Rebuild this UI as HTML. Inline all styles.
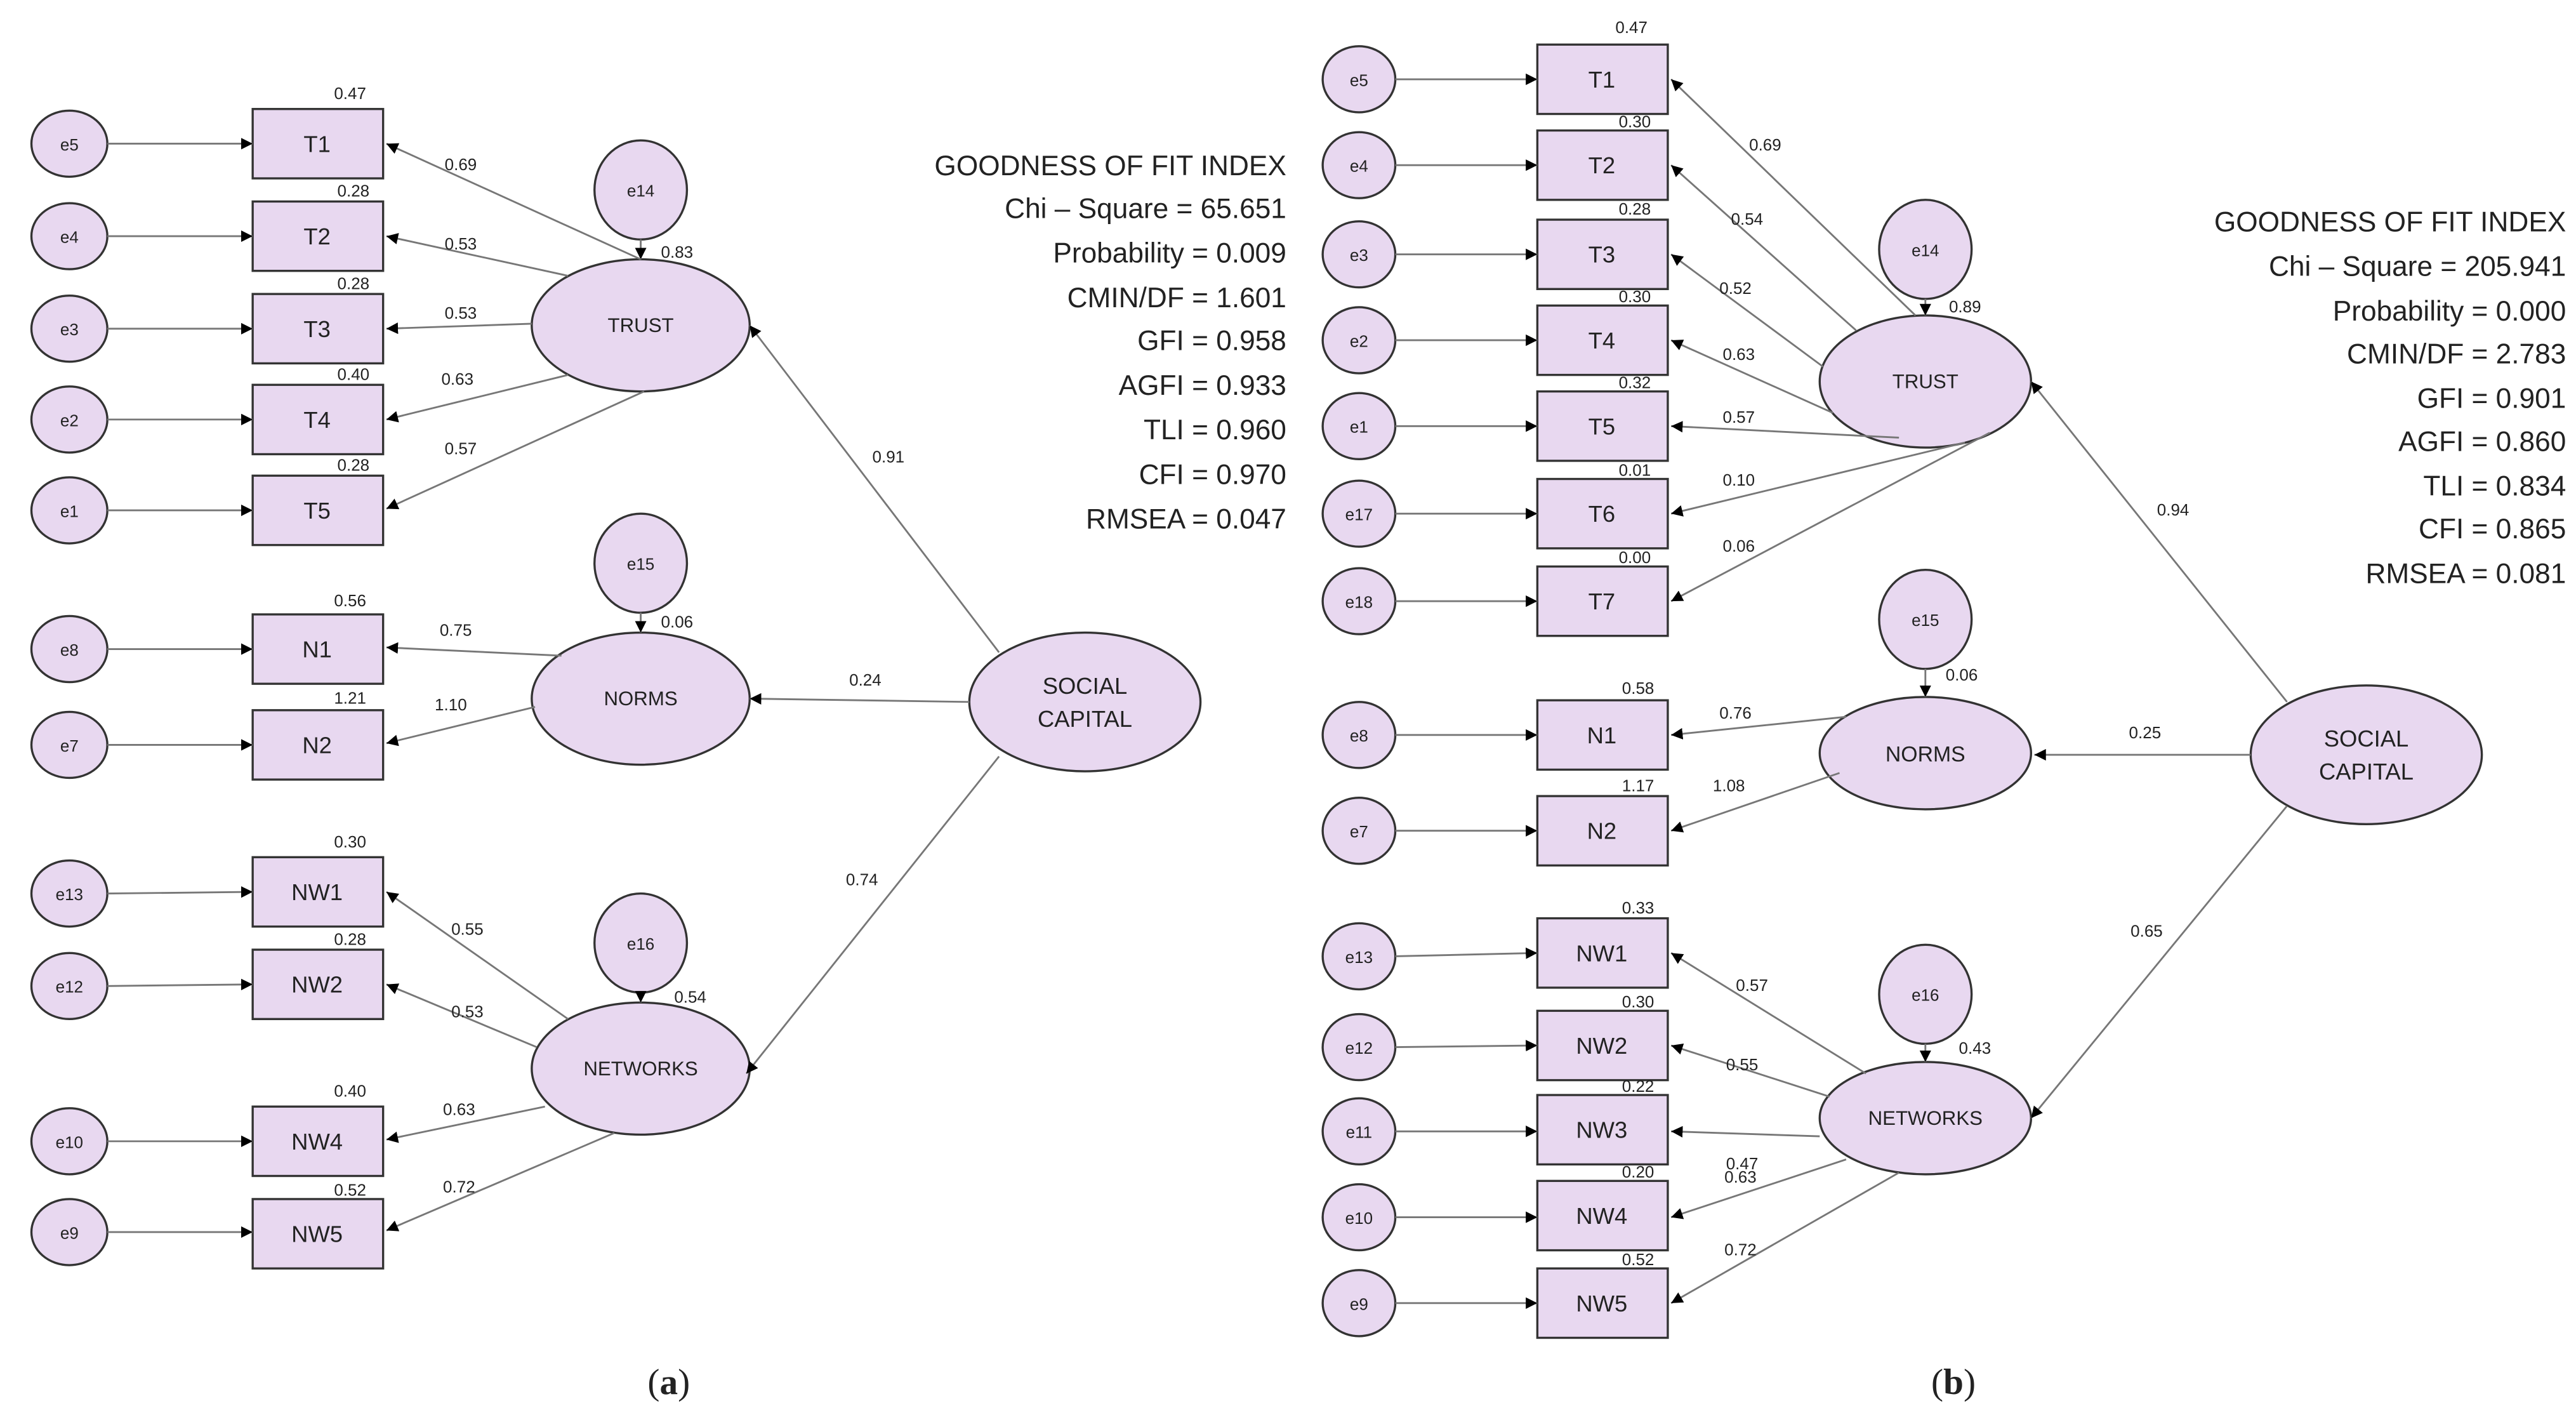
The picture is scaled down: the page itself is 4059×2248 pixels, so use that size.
<!DOCTYPE html>
<html><head><meta charset="utf-8"><style>
html,body{margin:0;padding:0;background:#fff}
svg{display:block}
text{font-family:"Liberation Sans",sans-serif;fill:#222}
.e{fill:#e8d8f0;stroke:#333;stroke-width:1.3}
.l{stroke:#777;stroke-width:1.1;fill:none;marker-end:url(#a)}
.s{font-size:10px;text-anchor:middle}
.b{font-size:14px;text-anchor:middle}
.g{font-size:17px;text-anchor:end}
.c{font-size:22px;text-anchor:middle;font-family:"Liberation Serif",serif}
</style></head><body>
<svg width="4059" height="2248" viewBox="0 0 1560 864" xmlns="http://www.w3.org/2000/svg">
<defs><marker id="a" viewBox="0 0 10 10" refX="10" refY="5" markerWidth="7" markerHeight="7" orient="auto" markerUnits="userSpaceOnUse"><path d="M0,0L10,5L0,10z" fill="#000"/></marker></defs>

<!-- ===== Panel a ===== -->
<g>
<!-- error circles -->
<g class="e">
<ellipse cx="42" cy="87" rx="23" ry="20"/><ellipse cx="42" cy="143" rx="23" ry="20"/><ellipse cx="42" cy="199" rx="23" ry="20"/><ellipse cx="42" cy="254" rx="23" ry="20"/><ellipse cx="42" cy="309" rx="23" ry="20"/><ellipse cx="42" cy="393" rx="23" ry="20"/><ellipse cx="42" cy="451" rx="23" ry="20"/><ellipse cx="42" cy="541" rx="23" ry="20"/><ellipse cx="42" cy="597" rx="23" ry="20"/><ellipse cx="42" cy="691" rx="23" ry="20"/><ellipse cx="42" cy="746" rx="23" ry="20"/>
<rect x="153" y="66" width="79" height="42"/><rect x="153" y="122" width="79" height="42"/><rect x="153" y="178" width="79" height="42"/><rect x="153" y="233" width="79" height="42"/><rect x="153" y="288" width="79" height="42"/><rect x="153" y="372" width="79" height="42"/><rect x="153" y="430" width="79" height="42"/><rect x="153" y="519" width="79" height="42"/><rect x="153" y="575" width="79" height="42"/><rect x="153" y="670" width="79" height="42"/><rect x="153" y="726" width="79" height="42"/>
<ellipse cx="388" cy="197" rx="66" ry="40"/><ellipse cx="388" cy="115" rx="28" ry="30"/>
<ellipse cx="388" cy="423" rx="66" ry="40"/><ellipse cx="388" cy="341" rx="28" ry="30"/>
<ellipse cx="388" cy="647" rx="66" ry="40"/><ellipse cx="388" cy="571" rx="28" ry="30"/>
<ellipse cx="657" cy="425" rx="70" ry="42"/>
</g>
<!-- error arrows -->
<g class="l">
<line x1="65" y1="87" x2="153" y2="87"/><line x1="65" y1="143" x2="153" y2="143"/><line x1="65" y1="199" x2="153" y2="199"/><line x1="65" y1="254" x2="153" y2="254"/><line x1="65" y1="309" x2="153" y2="309"/><line x1="65" y1="393" x2="153" y2="393"/><line x1="65" y1="451" x2="153" y2="451"/><line x1="65" y1="541" x2="153" y2="540"/><line x1="65" y1="597" x2="153" y2="596"/><line x1="65" y1="691" x2="153" y2="691"/><line x1="65" y1="746" x2="153" y2="746"/>
<line x1="388" y1="145" x2="388" y2="157"/><line x1="388" y1="371" x2="388" y2="383"/><line x1="388" y1="601" x2="388" y2="607"/>
<line x1="388" y1="157" x2="234" y2="87"/><line x1="344" y1="167" x2="234" y2="143"/><line x1="322" y1="196" x2="234" y2="199"/><line x1="344" y1="227" x2="234" y2="254"/><line x1="390" y1="237" x2="234" y2="308"/>
<line x1="340" y1="397" x2="234" y2="392"/><line x1="324" y1="428" x2="234" y2="450"/>
<line x1="344" y1="617" x2="234" y2="540"/><line x1="325" y1="634" x2="234" y2="596"/><line x1="330" y1="670" x2="234" y2="690"/><line x1="372" y1="686" x2="234" y2="745"/>
<line x1="605" y1="395" x2="454" y2="197"/><line x1="587" y1="425" x2="454" y2="423"/><line x1="605" y1="458" x2="452" y2="650"/>
</g>
<text class="s" x="42" y="91">e5</text><text class="s" x="42" y="147">e4</text><text class="s" x="42" y="203">e3</text><text class="s" x="42" y="258">e2</text><text class="s" x="42" y="313">e1</text><text class="s" x="42" y="397">e8</text><text class="s" x="42" y="455">e7</text><text class="s" x="42" y="545">e13</text><text class="s" x="42" y="601">e12</text><text class="s" x="42" y="695">e10</text><text class="s" x="42" y="750">e9</text>
<text class="b" x="192" y="92">T1</text><text class="b" x="192" y="148">T2</text><text class="b" x="192" y="204">T3</text><text class="b" x="192" y="259">T4</text><text class="b" x="192" y="314">T5</text><text class="b" x="192" y="398">N1</text><text class="b" x="192" y="456">N2</text><text class="b" x="192" y="545">NW1</text><text class="b" x="192" y="601">NW2</text><text class="b" x="192" y="696">NW4</text><text class="b" x="192" y="752">NW5</text>
<g class="s">
<text x="212" y="60">0.47</text><text x="214" y="119">0.28</text><text x="214" y="175">0.28</text><text x="214" y="230">0.40</text><text x="214" y="285">0.28</text><text x="212" y="367">0.56</text><text x="212" y="426">1.21</text><text x="212" y="513">0.30</text><text x="212" y="572">0.28</text><text x="212" y="664">0.40</text><text x="212" y="724">0.52</text>
<text x="279" y="103">0.69</text><text x="279" y="151">0.53</text><text x="279" y="193">0.53</text><text x="277" y="233">0.63</text><text x="279" y="275">0.57</text><text x="276" y="385">0.75</text><text x="273" y="430">1.10</text><text x="283" y="566">0.55</text><text x="283" y="616">0.53</text><text x="278" y="675">0.63</text><text x="278" y="722">0.72</text>
<text x="388" y="119">e14</text><text x="388" y="345">e15</text><text x="388" y="575">e16</text>
<text x="410" y="156">0.83</text><text x="410" y="380">0.06</text><text x="418" y="607">0.54</text>
<text x="538" y="280">0.91</text><text x="524" y="415">0.24</text><text x="522" y="536">0.74</text>
</g>
<text class="s" style="font-size:12px" x="388" y="201">TRUST</text><text class="s" style="font-size:12px" x="388" y="427">NORMS</text><text class="s" style="font-size:12px" x="388" y="651">NETWORKS</text>
<text class="b" x="657" y="420">SOCIAL</text><text class="b" x="657" y="440">CAPITAL</text>
<g class="g">
<text x="779" y="106">GOODNESS OF FIT INDEX</text><text x="779" y="132">Chi – Square = 65.651</text><text x="779" y="159">Probability = 0.009</text><text x="779" y="186">CMIN/DF = 1.601</text><text x="779" y="212">GFI = 0.958</text><text x="779" y="239">AGFI = 0.933</text><text x="779" y="266">TLI = 0.960</text><text x="779" y="293">CFI = 0.970</text><text x="779" y="320">RMSEA = 0.047</text>
</g>
<text class="c" x="405" y="844">(<tspan font-weight="bold">a</tspan>)</text>
</g>

<!-- ===== Panel b ===== -->
<g>
<g class="e">
<ellipse cx="823" cy="48" rx="22" ry="20"/><ellipse cx="823" cy="100" rx="22" ry="20"/><ellipse cx="823" cy="154" rx="22" ry="20"/><ellipse cx="823" cy="206" rx="22" ry="20"/><ellipse cx="823" cy="258" rx="22" ry="20"/><ellipse cx="823" cy="311" rx="22" ry="20"/><ellipse cx="823" cy="364" rx="22" ry="20"/><ellipse cx="823" cy="445" rx="22" ry="20"/><ellipse cx="823" cy="503" rx="22" ry="20"/><ellipse cx="823" cy="579" rx="22" ry="20"/><ellipse cx="823" cy="634" rx="22" ry="20"/><ellipse cx="823" cy="685" rx="22" ry="20"/><ellipse cx="823" cy="737" rx="22" ry="20"/><ellipse cx="823" cy="789" rx="22" ry="20"/>
<rect x="931" y="27" width="79" height="42"/><rect x="931" y="79" width="79" height="42"/><rect x="931" y="133" width="79" height="42"/><rect x="931" y="185" width="79" height="42"/><rect x="931" y="237" width="79" height="42"/><rect x="931" y="290" width="79" height="42"/><rect x="931" y="343" width="79" height="42"/><rect x="931" y="424" width="79" height="42"/><rect x="931" y="482" width="79" height="42"/><rect x="931" y="556" width="79" height="42"/><rect x="931" y="612" width="79" height="42"/><rect x="931" y="663" width="79" height="42"/><rect x="931" y="715" width="79" height="42"/><rect x="931" y="768" width="79" height="42"/>
<ellipse cx="1166" cy="231" rx="64" ry="40"/><ellipse cx="1166" cy="151" rx="28" ry="30"/>
<ellipse cx="1166" cy="456" rx="64" ry="34"/><ellipse cx="1166" cy="375" rx="28" ry="30"/>
<ellipse cx="1166" cy="677" rx="64" ry="34"/><ellipse cx="1166" cy="602" rx="28" ry="30"/>
<ellipse cx="1433" cy="457" rx="70" ry="42"/>
</g>
<g class="l">
<line x1="845" y1="48" x2="931" y2="48"/><line x1="845" y1="100" x2="931" y2="100"/><line x1="845" y1="154" x2="931" y2="154"/><line x1="845" y1="206" x2="931" y2="206"/><line x1="845" y1="258" x2="931" y2="258"/><line x1="845" y1="311" x2="931" y2="311"/><line x1="845" y1="364" x2="931" y2="364"/><line x1="845" y1="445" x2="931" y2="445"/><line x1="845" y1="503" x2="931" y2="503"/><line x1="845" y1="579" x2="931" y2="577"/><line x1="845" y1="634" x2="931" y2="633"/><line x1="845" y1="685" x2="931" y2="685"/><line x1="845" y1="737" x2="931" y2="737"/><line x1="845" y1="789" x2="931" y2="789"/>
<line x1="1166" y1="181" x2="1166" y2="191"/><line x1="1166" y1="405" x2="1166" y2="422"/><line x1="1166" y1="632" x2="1166" y2="643"/>
<line x1="1160" y1="191" x2="1012" y2="48"/><line x1="1124" y1="200" x2="1012" y2="100"/><line x1="1104" y1="222" x2="1012" y2="154"/><line x1="1110" y1="250" x2="1012" y2="206"/><line x1="1150" y1="265" x2="1012" y2="258"/><line x1="1190" y1="268" x2="1012" y2="311"/><line x1="1205" y1="262" x2="1012" y2="364"/>
<line x1="1118" y1="434" x2="1012" y2="445"/><line x1="1114" y1="468" x2="1012" y2="503"/>
<line x1="1130" y1="650" x2="1012" y2="577"/><line x1="1108" y1="664" x2="1012" y2="633"/><line x1="1102" y1="688" x2="1012" y2="685"/><line x1="1118" y1="702" x2="1012" y2="737"/><line x1="1150" y1="710" x2="1012" y2="789"/>
<line x1="1385" y1="425" x2="1230" y2="231"/><line x1="1363" y1="457" x2="1232" y2="457"/><line x1="1385" y1="488" x2="1230" y2="677"/>
</g>
<g class="s">
<text x="823" y="52">e5</text><text x="823" y="104">e4</text><text x="823" y="158">e3</text><text x="823" y="210">e2</text><text x="823" y="262">e1</text><text x="823" y="315">e17</text><text x="823" y="368">e18</text><text x="823" y="449">e8</text><text x="823" y="507">e7</text><text x="823" y="583">e13</text><text x="823" y="638">e12</text><text x="823" y="689">e11</text><text x="823" y="741">e10</text><text x="823" y="793">e9</text>
<text x="988" y="20">0.47</text><text x="990" y="77">0.30</text><text x="990" y="130">0.28</text><text x="990" y="183">0.30</text><text x="990" y="235">0.32</text><text x="990" y="288">0.01</text><text x="990" y="341">0.00</text><text x="992" y="420">0.58</text><text x="992" y="479">1.17</text><text x="992" y="553">0.33</text><text x="992" y="610">0.30</text><text x="992" y="661">0.22</text><text x="992" y="713">0.20</text><text x="992" y="766">0.52</text>
<text x="1069" y="91">0.69</text><text x="1058" y="136">0.54</text><text x="1051" y="178">0.52</text><text x="1053" y="218">0.63</text><text x="1053" y="256">0.57</text><text x="1053" y="294">0.10</text><text x="1053" y="334">0.06</text><text x="1051" y="435">0.76</text><text x="1047" y="479">1.08</text><text x="1061" y="600">0.57</text><text x="1055" y="648">0.55</text><text x="1055" y="708">0.47</text><text x="1054" y="716">0.63</text><text x="1054" y="760">0.72</text>
<text x="1166" y="155">e14</text><text x="1166" y="379">e15</text><text x="1166" y="606">e16</text>
<text x="1190" y="189">0.89</text><text x="1188" y="412">0.06</text><text x="1196" y="638">0.43</text>
<text x="1316" y="312">0.94</text><text x="1299" y="447">0.25</text><text x="1300" y="567">0.65</text>
</g>
<text class="b" x="970" y="53">T1</text><text class="b" x="970" y="105">T2</text><text class="b" x="970" y="159">T3</text><text class="b" x="970" y="211">T4</text><text class="b" x="970" y="263">T5</text><text class="b" x="970" y="316">T6</text><text class="b" x="970" y="369">T7</text><text class="b" x="970" y="450">N1</text><text class="b" x="970" y="508">N2</text><text class="b" x="970" y="582">NW1</text><text class="b" x="970" y="638">NW2</text><text class="b" x="970" y="689">NW3</text><text class="b" x="970" y="741">NW4</text><text class="b" x="970" y="794">NW5</text>
<text class="s" style="font-size:12px" x="1166" y="235">TRUST</text><text class="s" style="font-size:13px" x="1166" y="461">NORMS</text><text class="s" style="font-size:12px" x="1166" y="681">NETWORKS</text>
<text class="b" x="1433" y="452">SOCIAL</text><text class="b" x="1433" y="472">CAPITAL</text>
<g class="g">
<text x="1554" y="140">GOODNESS OF FIT INDEX</text><text x="1554" y="167">Chi – Square = 205.941</text><text x="1554" y="194">Probability = 0.000</text><text x="1554" y="220">CMIN/DF = 2.783</text><text x="1554" y="247">GFI = 0.901</text><text x="1554" y="273">AGFI = 0.860</text><text x="1554" y="300">TLI = 0.834</text><text x="1554" y="326">CFI = 0.865</text><text x="1554" y="353">RMSEA = 0.081</text>
</g>
<text class="c" x="1183" y="844">(<tspan font-weight="bold">b</tspan>)</text>
</g>
</svg>
</body></html>
